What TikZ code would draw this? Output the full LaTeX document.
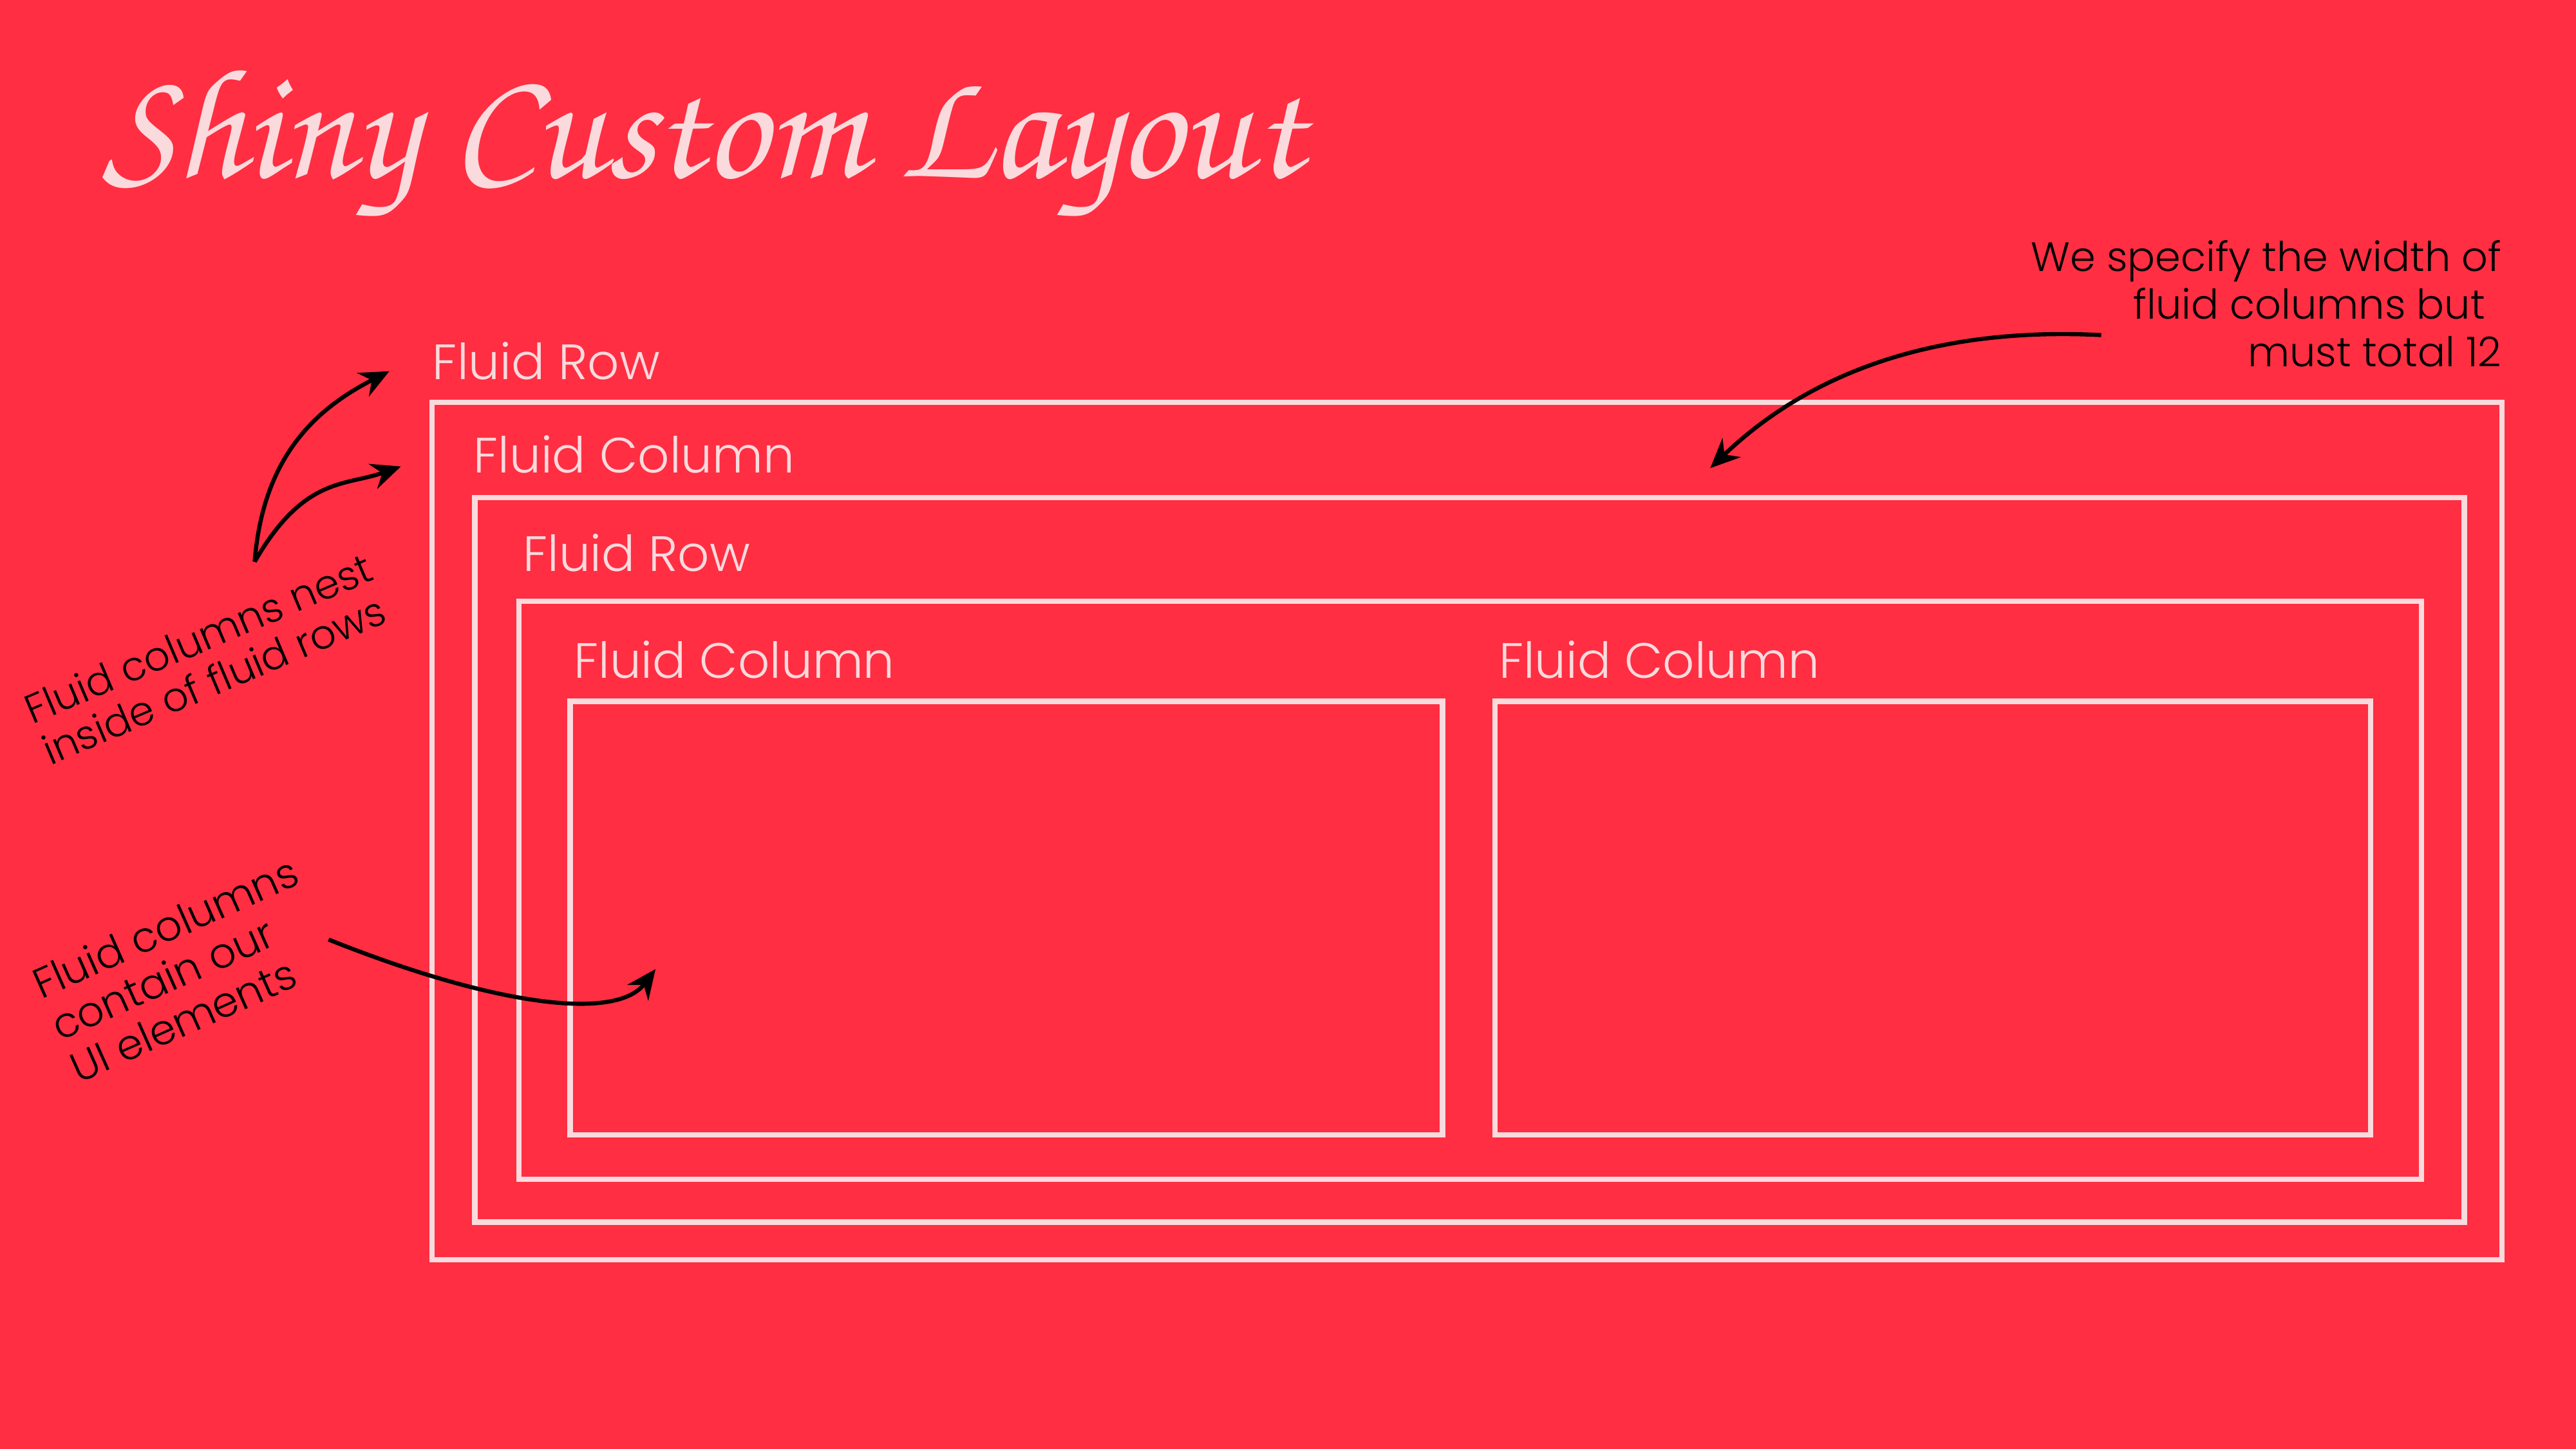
\documentclass[tikz,border=0pt]{standalone}
\usepackage{fontspec}
\usetikzlibrary{arrows.meta}
\newfontfamily\lightfont{Poppins Light}
\newfontfamily\titlefont{texgyrechorus-mediumitalic.otf}
\definecolor{slidered}{RGB}{255,46,66}
\definecolor{framepink}{RGB}{250,218,221}

\begin{document}
\begin{tikzpicture}[x=0.02cm, y=-0.02cm,
  frame/.style={draw=framepink, line width=0.65mm},
  lbl/.style={text=framepink, font=\lightfont\fontsize{17.2}{20}\selectfont, anchor=base west, inner sep=0},
  note/.style={font=\lightfont\fontsize{14}{15.5}\selectfont, inner sep=0},
  pointer/.style={-{Stealth[length=3.6mm, width=3.2mm, inset=1.2mm]}, line width=0.5mm}]
  \fill[slidered] (0,0) rectangle (1568,882);
  \useasboundingbox (0,0) rectangle (1568,882);
  \node[text=framepink, font=\titlefont\fontsize{54.5}{60}\selectfont, anchor=base west, inner sep=0] (title) at (62,108) {Shiny Custom Layout};

  % nested rows and columns
  \draw[frame] (263,245) rectangle (1523,767);
  \draw[frame] (289,303) rectangle (1500,744);
  \draw[frame] (316,366) rectangle (1474,718);
  \draw[frame] (347,427) rectangle (878,691);
  \draw[frame] (910,427) rectangle (1443,691);
  \node[lbl] (outerrow) at (263,231) {Fluid Row};
  \node[lbl] (outercol) at (288,288) {Fluid Column};
  \node[lbl] (innerrow) at (318,348) {Fluid Row};
  \node[lbl] (leftcol) at (349,413) {Fluid Column};
  \node[lbl] (rightcol) at (912,413) {Fluid Column};

  % notes
  \node[note, rotate=23, align=left] (nestnote) at (126,401) {Fluid columns nest\\inside of fluid rows};
  \node[note, rotate=24, align=left, font=\lightfont\fontsize{14.5}{16}\selectfont] (uinote) at (112,590) {Fluid columns\\contain our\\UI elements};
  \node[note, align=right, anchor=north east, font=\lightfont\fontsize{14.2}{16.5}\selectfont] (widthnote) at (1523,146) {We specify the width of\\fluid columns but\kern0.4em\\must total 12};

  \coordinate (nestfoot) at (155,342);
  \coordinate (rowtip) at (237,226);
  \coordinate (coltip) at (244,284);
  \coordinate (widthstart) at (1279,204);
  \coordinate (widthtip) at (1041,285);
  \coordinate (uistart) at (200,572);
  \coordinate (uitip) at (399,590);
  \draw[pointer] (nestfoot) .. controls (160,280) and (190,250) .. (rowtip);
  \draw[pointer] (nestfoot) .. controls (185,290) and (210,296) .. (coltip);
  \draw[pointer] (widthstart) .. controls (1160,198) and (1090,238) .. (widthtip);
  \draw[pointer] (uistart) .. controls (300,612) and (375,622) .. (uitip);
\end{tikzpicture}
\end{document}
